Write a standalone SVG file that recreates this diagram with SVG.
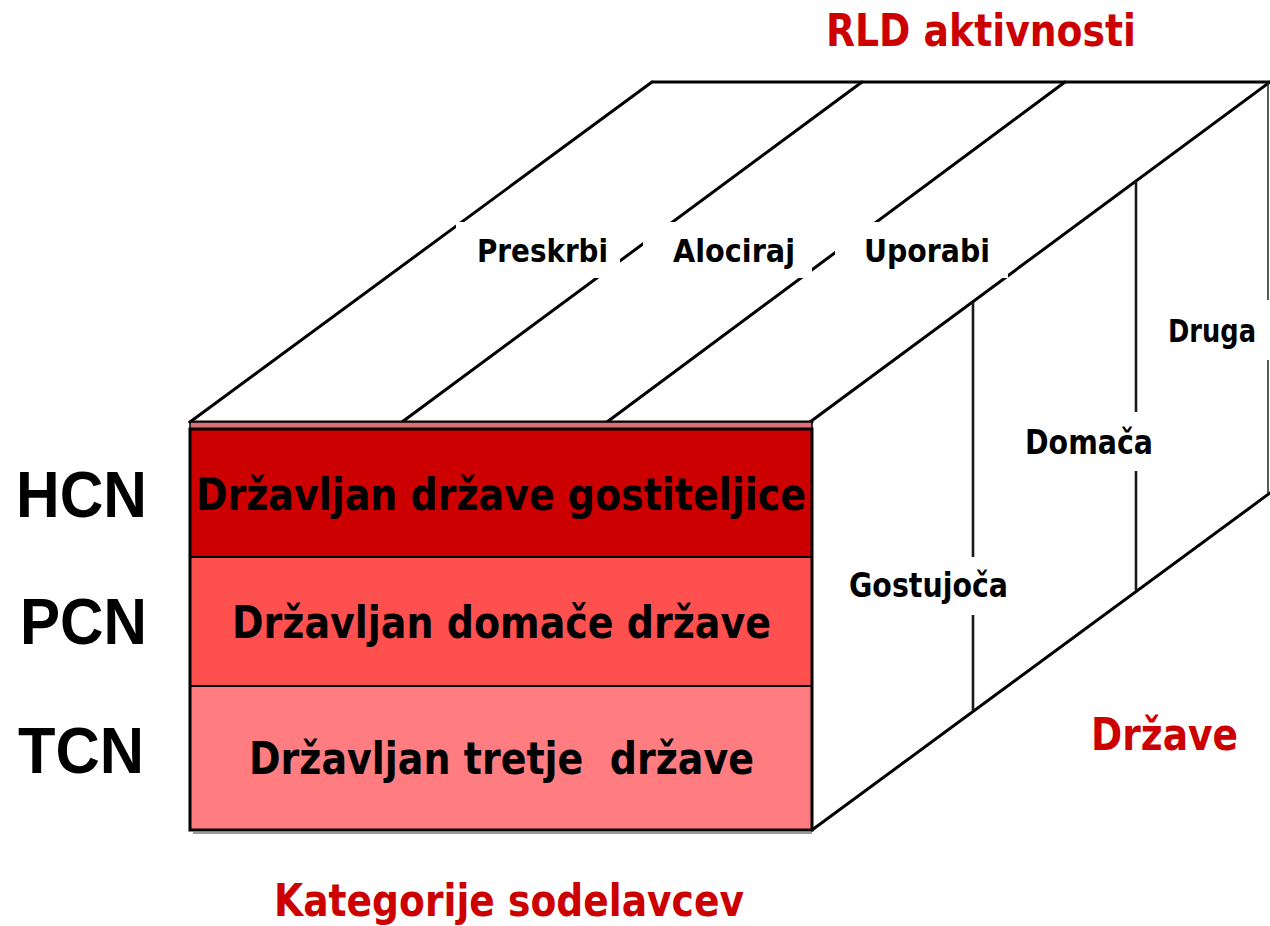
<svg xmlns="http://www.w3.org/2000/svg" width="1270" height="926" viewBox="0 0 1270 926">
<style>
.edge{stroke:#000;stroke-width:3;fill:none;stroke-linecap:round}
.vert{stroke:#1a1a1a;stroke-width:2.6;fill:none}
.thin{stroke:#222;stroke-width:1.5;fill:none}
.bg{fill:#fff;stroke:none}
.lbl{font-family:"DejaVu Sans",Verdana,sans-serif;font-weight:bold;fill:#000}
.main{font-family:"DejaVu Sans",Verdana,sans-serif;font-weight:bold;fill:#000;font-size:44px}
.abbr{font-family:"Liberation Sans",Arial,sans-serif;font-weight:bold;fill:#000;font-size:64px}
.title{font-family:"DejaVu Sans",Verdana,sans-serif;font-weight:bold;fill:#cc0000}
</style>
<rect x="0" y="0" width="1270" height="926" fill="#fff"/>
<g id="connectors">
  <line class="edge" x1="652" y1="82" x2="1270" y2="82"/>
  <line class="edge" x1="190" y1="422" x2="652" y2="82"/>
  <line class="edge" x1="402" y1="422" x2="862" y2="82"/>
  <line class="edge" x1="607" y1="422" x2="1065" y2="82"/>
  <line class="edge" x1="810" y1="422" x2="1270" y2="82"/>
  <line class="edge" x1="812" y1="830" x2="1270" y2="493"/>
  <line class="vert" x1="973" y1="302" x2="973" y2="710"/>
  <line class="vert" x1="1136" y1="181" x2="1136" y2="590"/>
  <line class="thin" x1="1268" y1="82" x2="1268" y2="493"/>
  <line class="edge" x1="190" y1="422" x2="812" y2="422"/>
</g>
<g id="front-face">
  <rect x="190" y="422" width="622" height="7" fill="#d9707a" stroke="#000" stroke-width="1.5"/>
  <line x1="193" y1="833" x2="812" y2="833" stroke="#999" stroke-width="2"/>
  <g id="row-hcn">
    <rect x="190" y="429" width="622" height="128" fill="#cc0000"/>
    <text class="main" x="501" y="510" text-anchor="middle" textLength="610" lengthAdjust="spacingAndGlyphs">Državljan države gostiteljice</text>
  </g>
  <g id="row-pcn">
    <rect x="190" y="557" width="622" height="129" fill="#ff5050"/>
    <text class="main" x="501.5" y="638" text-anchor="middle" textLength="539" lengthAdjust="spacingAndGlyphs">Državljan domače države</text>
  </g>
  <g id="row-tcn">
    <rect x="190" y="686" width="622" height="144" fill="#ff7c80"/>
    <text class="main" x="501.5" y="774" text-anchor="middle" textLength="505" lengthAdjust="spacingAndGlyphs" xml:space="preserve">Državljan tretje  države</text>
  </g>
  <rect x="190" y="429" width="622" height="401" fill="none" stroke="#000" stroke-width="3"/>
  <line x1="190" y1="557" x2="812" y2="557" stroke="#000" stroke-width="2"/>
  <line x1="190" y1="686" x2="812" y2="686" stroke="#000" stroke-width="2"/>
</g>
<g id="label-preskrbi">
  <rect class="bg" x="456" y="222" width="164" height="56"/>
  <text class="lbl" x="477" y="262" font-size="32" textLength="131" lengthAdjust="spacingAndGlyphs">Preskrbi</text>
</g>
<g id="label-alociraj">
  <rect class="bg" x="643" y="222" width="169" height="56"/>
  <text class="lbl" x="673" y="262" font-size="32" textLength="122" lengthAdjust="spacingAndGlyphs">Alociraj</text>
</g>
<g id="label-uporabi">
  <rect class="bg" x="835" y="222" width="173" height="56"/>
  <text class="lbl" x="864" y="262" font-size="32" textLength="126" lengthAdjust="spacingAndGlyphs">Uporabi</text>
</g>
<g id="label-druga">
  <rect class="bg" x="1150" y="300" width="120" height="60"/>
  <text class="lbl" x="1256" y="342" font-size="32" text-anchor="end" textLength="88" lengthAdjust="spacingAndGlyphs">Druga</text>
</g>
<g id="label-domaca">
  <rect class="bg" x="1005" y="412" width="170" height="59"/>
  <text class="lbl" x="1025" y="454" font-size="33" textLength="128" lengthAdjust="spacingAndGlyphs">Domača</text>
</g>
<g id="label-gostujoca">
  <rect class="bg" x="830" y="557" width="200" height="58"/>
  <text class="lbl" x="849" y="597" font-size="33" textLength="159" lengthAdjust="spacingAndGlyphs">Gostujoča</text>
</g>
<g id="label-hcn"><text class="abbr" x="16" y="517" textLength="131" lengthAdjust="spacingAndGlyphs">HCN</text></g>
<g id="label-pcn"><text class="abbr" x="20" y="644" textLength="127" lengthAdjust="spacingAndGlyphs">PCN</text></g>
<g id="label-tcn"><text class="abbr" x="18" y="773" textLength="126" lengthAdjust="spacingAndGlyphs">TCN</text></g>
<g id="title-rld"><text class="title" x="826" y="46" font-size="44" textLength="310" lengthAdjust="spacingAndGlyphs">RLD aktivnosti</text></g>
<g id="title-drzave"><text class="title" x="1091" y="750" font-size="44" textLength="147" lengthAdjust="spacingAndGlyphs">Države</text></g>
<g id="title-kategorije"><text class="title" x="274" y="916" font-size="44" textLength="470" lengthAdjust="spacingAndGlyphs">Kategorije sodelavcev</text></g>
</svg>
